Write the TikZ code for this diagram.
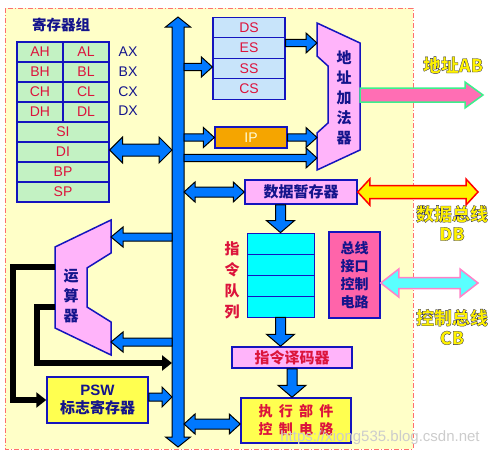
\documentclass[tikz,border=0pt]{standalone}
\usepackage{fontspec}
\setmainfont{Liberation Sans}
\newfontfamily\cjk{Noto Sans CJK SC}
\usetikzlibrary{calc,arrows.meta}

\definecolor{bgyellow}{RGB}{255,255,200}
\definecolor{frame}{RGB}{255,110,110}
\definecolor{busblue}{RGB}{0,120,255}
\definecolor{navy}{RGB}{20,20,140}
\definecolor{crimson}{RGB}{220,20,60}
\definecolor{regline}{RGB}{20,20,190}
\definecolor{reggreen}{RGB}{195,242,195}
\definecolor{segblue}{RGB}{200,228,250}
\definecolor{lpink}{RGB}{255,180,250}
\definecolor{hotpink}{RGB}{255,100,170}
\definecolor{ipgold}{RGB}{245,165,0}
\definecolor{boxyellow}{RGB}{255,255,80}
\definecolor{qcyan}{RGB}{0,255,255}
\definecolor{abpink}{RGB}{255,110,180}
\definecolor{abgreen}{RGB}{60,240,140}
\definecolor{cbcyan}{RGB}{90,255,255}
\definecolor{cbpink}{RGB}{255,130,200}

% yellow bus names with a dark outline
\newcommand\outl[1]{\special{pdf:literal direct 2 Tr 0.3 w 0.15 0.15 0.35 RG}#1\special{pdf:literal direct 0 Tr}}

% fat arrow: [style] {from} {to} {half shaft} {half head} {head length}
\newcommand\fatarr[6][fill=busblue]{%
  \path #2; \pgfgetlastxy{\fsx}{\fsy}%
  \path #3; \pgfgetlastxy{\fex}{\fey}%
  \pgfmathsetmacro\fang{atan2(\fey-\fsy,\fex-\fsx)}%
  \pgfmathsetmacro\flen{veclen(\fex-\fsx,\fey-\fsy)}%
  \draw[fatline,#1,shift={(\fsx,\fsy)},rotate=\fang]
    (0pt,-#4pt) -- ({\flen pt-#6pt},-#4pt) -- ({\flen pt-#6pt},-#5pt) -- (\flen pt,0pt)
    -- ({\flen pt-#6pt},#5pt) -- ({\flen pt-#6pt},#4pt) -- (0pt,#4pt) -- cycle;
}
% same with a head at both ends
\newcommand\fatdarr[6][fill=busblue]{%
  \path #2; \pgfgetlastxy{\fsx}{\fsy}%
  \path #3; \pgfgetlastxy{\fex}{\fey}%
  \pgfmathsetmacro\fang{atan2(\fey-\fsy,\fex-\fsx)}%
  \pgfmathsetmacro\flen{veclen(\fex-\fsx,\fey-\fsy)}%
  \draw[fatline,#1,shift={(\fsx,\fsy)},rotate=\fang]
    (0pt,0pt) -- (#6pt,-#5pt) -- (#6pt,-#4pt) -- ({\flen pt-#6pt},-#4pt) -- ({\flen pt-#6pt},-#5pt)
    -- (\flen pt,0pt) -- ({\flen pt-#6pt},#5pt) -- ({\flen pt-#6pt},#4pt) -- (#6pt,#4pt) -- (#6pt,#5pt) -- cycle;
}

\tikzset{
  fatline/.style={draw=black,line width=1pt,line join=miter},
  reg/.style={draw=regline,line width=1.2pt,fill=reggreen,text=crimson,minimum height=20pt,
    inner sep=0pt,font=\fontsize{14}{14}\selectfont},
  half/.style={minimum width=46pt},
  full/.style={minimum width=92pt},
  seg/.style={draw=regline,line width=1.2pt,fill=segblue,text=crimson,minimum width=72pt,
    minimum height=20.5pt,inner sep=0pt,font=\fontsize{14}{14}\selectfont},
  lbl/.style={text=navy,inner sep=0pt,font=\fontsize{14}{14}\selectfont},
  box/.style={draw=regline,line width=1.5pt,inner sep=0pt,font=\cjk\bfseries\fontsize{15}{18}\selectfont},
  vtext/.style={align=center,inner sep=0pt,font=\cjk\bfseries\fontsize{15}{20}\selectfont},
  qcell/.style={draw=regline,line width=0.8pt,fill=qcyan,minimum width=67pt,minimum height=21pt,inner sep=0pt},
  bustext/.style={text=yellow,inner sep=0pt,align=center,font=\cjk\bfseries\fontsize{18}{20}\selectfont},
  blk/.style={line width=6pt,line join=miter,-{Triangle[length=10pt,width=15pt]}}
}

\begin{document}
\begin{tikzpicture}[x=1pt,y=-1pt]
  \useasboundingbox (0,0) rectangle (496,455);

  \def\aw{3.7}   %half shaft of small arrows
  \def\ah{10}    %half head
  \def\al{11}    %head length

  %FRAME
  \draw[fill=bgyellow,draw=frame,line width=1pt,dash pattern=on 5pt off 2pt on 1pt off 2pt]
    (5,8) rectangle (413,449);

  %REGISTER FILE
  \node[lbl,font=\cjk\bfseries\fontsize{14.5}{15}\selectfont] (regtitle) at (61,25) {寄存器组};
  \foreach \rn [count=\i from 0] in {A,B,C,D}{
    \node[reg,half] (\rn H) at (40,{52+20*\i}) {\rn H};
    \node[reg,half] (\rn L) at (86,{52+20*\i}) {\rn L};
    \node[lbl] (\rn X) at (128,{52+19.7*\i}) {\rn X};
  }
  \foreach \rn [count=\i from 0] in {SI,DI,BP,SP}
    \node[reg,full] (\rn) at (63,{132+20*\i}) {\rn};

  %BUS
  \coordinate (busT) at (178,17);
  \coordinate (busB) at (178,447);
  \coordinate (busW) at (172,0);
  \coordinate (busE) at (184,0);
  \fatdarr{(busT)}{(busB)}{6}{12.5}{10}
  \fatdarr{(DI.east |- 0,150)}{(busW |- 0,150)}{6}{13}{13}

  %SEGMENT REGISTERS
  \foreach \sn [count=\i from 0] in {DS,ES,SS,CS}
    \node[seg] (\sn) at (249,{27.5+20.5*\i}) {\sn};
  \fatarr{(busE |- 0,67)}{(SS.west |- 0,67)}{\aw}{\ah}{\al}

  %ADDER
  \draw[fill=lpink,draw=regline,line width=1.5pt] (317,23) -- (360,43) -- (360,150) -- (317,170)
    -- (317,133) -- (328,123) -- (328,66) -- (317,56) -- cycle;
  \node[vtext,text=navy] (adder) at (344,98) {地\\址\\加\\法\\器};
  \coordinate (addL) at (317,0);
  \coordinate (addR) at (360,95);
  \fatarr{(ES.east |- 0,43)}{(addL |- 0,43)}{\aw}{\ah}{\al}

  %IP
  \node[seg,fill=ipgold,text=white!85!yellow,minimum height=21pt] (IP) at (251,137.5) {IP};
  \fatarr{(busE |- IP.west)}{(IP.west)}{\aw}{\ah}{\al}
  \fatarr{(IP.east)}{(addL |- IP.east)}{\aw}{\ah}{\al}
  \fatarr{(busE |- 0,158)}{(addL |- 0,158)}{\aw}{\ah}{\al}

  %ADDRESS BUS
  \coordinate (abEnd) at (483,95);
  \fatarr[fill=abpink,draw=abgreen,line width=1.5pt]{(addR)}{(abEnd)}{7}{13}{18}
  \node[bustext] (abtext) at (453,65) {\outl{地址AB}};

  %DATA BUFFER
  \node[box,fill=lpink,text=navy,minimum width=112pt,minimum height=24pt] (dbuf) at (301,192) {数据暂存器};
  \fatdarr{(busE |- dbuf.west)}{(dbuf.west)}{5}{10}{11}
  \coordinate (dbEnd) at (478,192);
  \fatdarr[fill=yellow,draw=red,line width=1.5pt]{(dbuf.east)}{(dbEnd)}{6.5}{13}{12}
  \node[bustext] (dbtext) at (452,223) {\outl{数据总线\\DB}};

  %INSTRUCTION QUEUE
  \foreach \i in {1,...,4}
    \node[qcell] (q\i) at (280.5,{222.5+21*\i}) {};
  \node[vtext,text=crimson,font=\cjk\bfseries\fontsize{15}{21}\selectfont] (qlbl) at (232,280) {指\\令\\队\\列};
  \fatarr{(dbuf.south -| q1.north)}{(q1.north)}{5}{14}{12}

  %BUS INTERFACE
  \node[box,fill=hotpink,text=navy,minimum width=51pt,minimum height=86pt,align=center,
    font=\cjk\bfseries\fontsize{14}{18}\selectfont] (biu) at (354.5,275) {总线\\接口\\控制\\电路};
  \coordinate (cbEnd) at (478,283);
  \fatdarr[fill=cbcyan,draw=cbpink,line width=1.5pt]{(biu.east |- cbEnd)}{(cbEnd)}{5.5}{14}{18}
  \node[bustext] (cbtext) at (452,327) {\outl{控制总线\\CB}};

  %DECODER AND EXECUTION CONTROL
  \node[box,fill=lpink,text=crimson,minimum width=120pt,minimum height=21pt] (dec) at (292,357.5) {指令译码器};
  \fatarr{(q4.south)}{(dec.north -| q4.south)}{5}{14}{12}
  \node[box,fill=boxyellow,text=crimson,minimum width=110pt,minimum height=45pt,align=center,
    font=\cjk\bfseries\fontsize{14}{18}\selectfont] (exec) at (296,420.5)
    {执\hspace{0.45em}行\hspace{0.45em}部\hspace{0.45em}件\\控\hspace{0.45em}制\hspace{0.45em}电\hspace{0.45em}路};
  \fatarr{(dec.south)}{(exec.north -| dec.south)}{5}{14}{12}
  \fatdarr{(busE |- 0,424)}{(exec.west |- 0,424)}{5}{10}{11}

  %ALU
  \draw[fill=lpink,draw=regline,line width=1.5pt] (111,220) -- (111,253) -- (87,268) -- (87,307)
    -- (111,322) -- (111,355) -- (55,328) -- (55,247) -- cycle;
  \node[vtext,text=navy] (alu) at (71,296) {运\\算\\器};
  \coordinate (aluR) at (111,0);
  \coordinate (aluA) at (55,267);
  \coordinate (aluB) at (55,307);
  \fatarr{(busW |- 0,237)}{(aluR |- 0,237)}{4}{10}{12}
  \fatarr{(busW |- 0,342)}{(aluR |- 0,342)}{4}{10}{12}

  %PSW
  \node[box,fill=boxyellow,text=navy,minimum width=101pt,minimum height=46pt,align=center] (psw) at (97.5,400)
    {{\rmfamily\bfseries PSW}\\标志寄存器};
  \draw[blk] (aluA) -- ++(-42,0) |- (psw.west);
  \draw[blk] (aluB) -- ++(-18,0) |- (busW |- 0,363);
  \fatarr{(psw.east |- 0,397)}{(busW |- 0,397)}{4}{10}{10}

  %WATERMARK
  \node[text=gray!40,inner sep=0pt,font=\fontsize{15}{15}\selectfont] (wm) at (380,438) {https://xiong535.blog.csdn.net};
\end{tikzpicture}
\end{document}
